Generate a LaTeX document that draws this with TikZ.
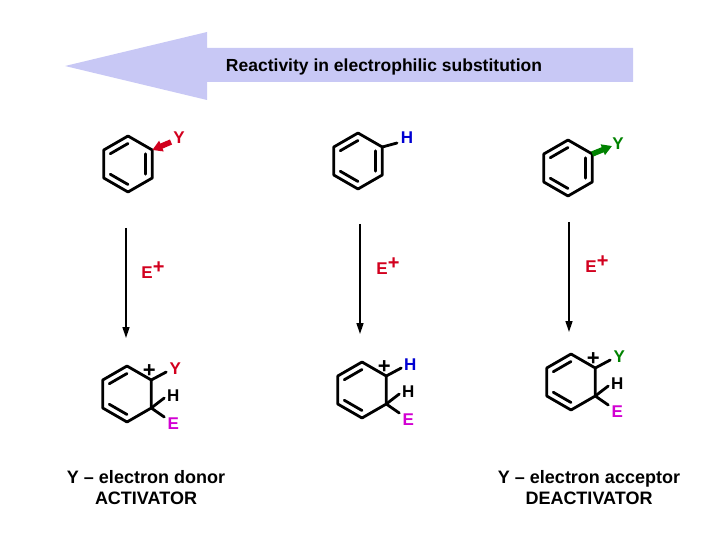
\documentclass[tikz,border=0pt]{standalone}
\usepackage{fontspec}
\setmainfont{Liberation Sans}
\usetikzlibrary{arrows.meta,calc}
\definecolor{lav}{RGB}{200,200,245}
\definecolor{yred}{RGB}{210,0,30}
\definecolor{hblue}{RGB}{0,0,210}
\definecolor{ygreen}{RGB}{0,130,0}
\definecolor{emag}{RGB}{210,0,210}
\tikzset{bond/.style={line width=2.8pt,line cap=round,line join=round},
 lab/.style={font=\bfseries\fontsize{17}{17}\selectfont,inner sep=0pt},
 txt/.style={font=\bfseries\fontsize{18}{21}\selectfont,inner sep=0pt,align=center},
 rarr/.style={-{Triangle[length=11pt,width=7pt]},line width=1.6pt}}
\newcommand{\benz}[1]{%
 \draw[bond] (#1)+(270:28)--+(330:28)--+(30:28)--+(90:28)--+(150:28)--+(210:28)--cycle;
 \draw[bond] ($(#1)+(210:20.5)$)--($(#1)+(270:20.5)$);
 \draw[bond] ($(#1)+(90:20.5)$)--($(#1)+(150:20.5)$);}
\newcommand{\ring}[1]{\benz{#1}\draw[bond] ($(#1)+(330:20.5)$)--($(#1)+(30:20.5)$);}
\newcommand{\Eplus}{E\raisebox{5pt}{\fontsize{20}{20}\selectfont\bfseries +}}
\begin{document}
\begin{tikzpicture}[x=1pt,y=-1pt]
\useasboundingbox (0,0) rectangle (720,540);
\fill[lav] (65,66)--(207,32)--(207,48)--(633,48)--(633,82)--(207,82)--(207,100)--cycle;
\node[txt,font=\bfseries\fontsize{17.5}{20}\selectfont] (title) at (384,67) {Reactivity in electrophilic substitution};
% top row
\coordinate (b1) at (128,164); \ring{b1}
\node[lab,text=yred] (y1) at (179,138) {Y};
\draw[-{Triangle[length=10pt,width=11pt]},yred,line width=5.5pt] (171,142)--($(b1)+(330:28)$);
\coordinate (b2) at (358,161); \ring{b2}
\node[lab,text=hblue] (h2) at (407,138) {H};
\draw[bond] ($(b2)+(330:28)$)--(397,143);
\coordinate (b3) at (568,168); \ring{b3}
\node[lab,text=ygreen] (y3) at (618,144) {Y};
\draw[-{Triangle[length=10pt,width=11pt]},ygreen,line width=5.5pt] ($(b3)+(330:28)$)--(612,146);
% arrows
\coordinate (a1) at (126,228); \coordinate (a1e) at (126,338);
\coordinate (a2) at (360,224); \coordinate (a2e) at (360,334);
\coordinate (a3) at (569,222); \coordinate (a3e) at (569,332);
\draw[rarr] (a1)--(a1e); \draw[rarr] (a2)--(a2e); \draw[rarr] (a3)--(a3e);
\node[lab,text=yred] (e1) at (153,270) {\Eplus};
\node[lab,text=yred] (e2) at (388,266) {\Eplus};
\node[lab,text=yred] (e3) at (597,264) {\Eplus};
% cations
\foreach \c/\x/\y/\col/\top in {c1/127/394/yred/Y,c2/362/390/hblue/H,c3/571/382/ygreen/Y}{
 \coordinate (\c) at (\x,\y); \benz{\c}
 \draw[bond] ($(\c)+(330:28)$)--++(15,-8) coordinate (\c t);
 \draw[bond] ($(\c)+(30:28)$)--++(13,-10) coordinate (\c h);
 \draw[bond] ($(\c)+(30:28)$)--++(13,9) coordinate (\c e);
 \node[lab,text=\col] at ($(\c t)+(9,-3)$) {\top};
 \node[lab] at ($(\c h)+(9,-2)$) {H};
 \node[lab,text=emag] at ($(\c e)+(9,7)$) {E};
 \node[lab,font=\bfseries\fontsize{22}{22}\selectfont] at ($(\c)+(330:28)+(-2,-9)$) {+};
}
\node[txt] (d1) at (146,488) {Y – electron donor\\ACTIVATOR};
\node[txt] (d2) at (589,488) {Y – electron acceptor\\DEACTIVATOR};
\end{tikzpicture}
\end{document}
